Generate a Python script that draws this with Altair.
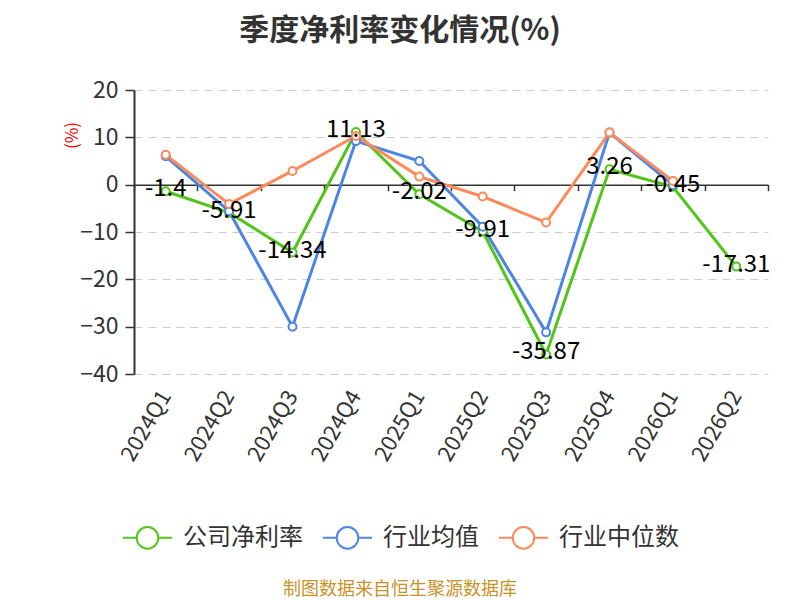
import altair as alt
import pandas as pd

quarters = ["2024Q1", "2024Q2", "2024Q3", "2024Q4", "2025Q1", "2025Q2", "2025Q3", "2025Q4", "2026Q1", "2026Q2"]
company = [-1.4, -5.91, -14.34, 11.13, -2.02, -9.91, -35.87, 3.26, -0.45, -17.31]
industry_avg = [6.0, -5.6, -30.0, 9.2, 5.0, -8.9, -31.2, 11.0, -0.1]
industry_median = [6.3, -4.1, 2.9, 10.3, 1.7, -2.5, -8.0, 11.0, 0.8]

series_names = ["公司净利率", "行业均值", "行业中位数"]
series_colors = ["#52c41a", "#4d85e3", "#fc8a5a"]

rows = []
for name, vals in zip(series_names, [company, industry_avg, industry_median]):
    for q, v in zip(quarters, vals):
        rows.append({"季度": q, "值": v, "系列": name})
df = pd.DataFrame(rows)
df_company = df[df["系列"] == "公司净利率"].copy()
df_company["标签"] = [f"{v:g}" for v in company]

FONT = "Noto Sans CJK SC"
W, H = 634, 284

x_scale = alt.Scale(domain=quarters, paddingInner=0, paddingOuter=0)
x_labels = alt.X("季度:N", sort=quarters, scale=x_scale,
                 axis=alt.Axis(title=None, labelAngle=-60, labelAlign="right", labelBaseline="middle",
                               labelFontSize=22, labelColor="#333333", labelFont=FONT, labelPadding=18,
                               domain=False, ticks=False, grid=False, orient="bottom"))
x_zero = alt.X("季度:N", sort=quarters, scale=x_scale,
               axis=alt.Axis(title=None, labels=False, domain=True, domainColor="#333333", domainWidth=1.5,
                             ticks=True, tickBand="extent", tickSize=6, tickColor="#333333", tickWidth=1.5,
                             grid=False, orient="bottom", offset=-(H * 40 / 60)))
x_none = alt.X("季度:N", sort=quarters, scale=x_scale, axis=None)
y_enc = alt.Y("值:Q", scale=alt.Scale(domain=[-40, 20], nice=False, zero=False),
              axis=alt.Axis(values=[-40, -30, -20, -10, 0, 10, 20], title="(%)", titleColor="#ff0000",
                            titleFontSize=17, titleFont=FONT, titleFontWeight="normal",
                            titleX=-62, titleY=45, titleAngle=-90, titleAlign="center", titleBaseline="middle",
                            labelFontSize=23, labelColor="#333333", labelFont=FONT, labelPadding=7,
                            tickSize=9, tickColor="#333333", tickWidth=1.5, domainColor="#333333", domainWidth=2,
                            grid=True, gridColor="#cccccc", gridDash=[8, 6], gridWidth=1.2))

legend_symbol = "M-1,0L-0.44,0M0.44,0L1,0M0.44,0A0.44,0.44,0,1,1,-0.44,0A0.44,0.44,0,1,1,0.44,0"
color_enc = alt.Color("系列:N", scale=alt.Scale(domain=series_names, range=series_colors),
                      legend=alt.Legend(title=None, orient="none", direction="horizontal",
                                        legendX=-12, legendY=422, symbolType=legend_symbol,
                                        symbolSize=2401, symbolStrokeWidth=2, symbolFillColor="white",
                                        labelFontSize=24, labelFont=FONT, labelColor="#333333",
                                        labelOffset=10, columnPadding=16, padding=0))

lines = alt.Chart(df).mark_line(strokeWidth=3).encode(x=x_labels, y=y_enc, color=color_enc,
                                                      order=alt.Order("季度:N"))
points = alt.Chart(df).mark_point(filled=True, fill="white", size=64, strokeWidth=2, opacity=1).encode(
    x=x_none, y=y_enc,
    stroke=alt.Stroke("系列:N", scale=alt.Scale(domain=series_names, range=series_colors), legend=None))
labels = alt.Chart(df_company).mark_text(fontSize=24, font=FONT, color="#000000", baseline="middle", dy=-2).encode(
    x=x_none, y=y_enc, text="标签:N")
zero_axis = alt.Chart(df_company).mark_point(opacity=0).encode(x=x_zero, y=y_enc)
footer = alt.Chart(pd.DataFrame({"t": ["制图数据来自恒生聚源数据库"]})).mark_text(
    fontSize=18, font=FONT, color="#c8922a", align="center", baseline="middle").encode(
    x=alt.value(266), y=alt.value(500), text="t:N")

chart = alt.layer(lines, zero_axis, points, labels, footer).resolve_axis(x="independent").properties(
    width=W, height=H,
    autosize=alt.AutoSizeParams(type="none"),
    padding={"left": 126, "top": 82, "right": 24, "bottom": 225},
    title=alt.Title("季度净利率变化情况(%)", fontSize=30, font=FONT, fontWeight="bold", color="#333333",
                    anchor="middle", frame="group", dx=-51, offset=33),
).configure_view(stroke=None)

chart.save("out.html", embed_options={"renderer": "svg", "actions": False})
